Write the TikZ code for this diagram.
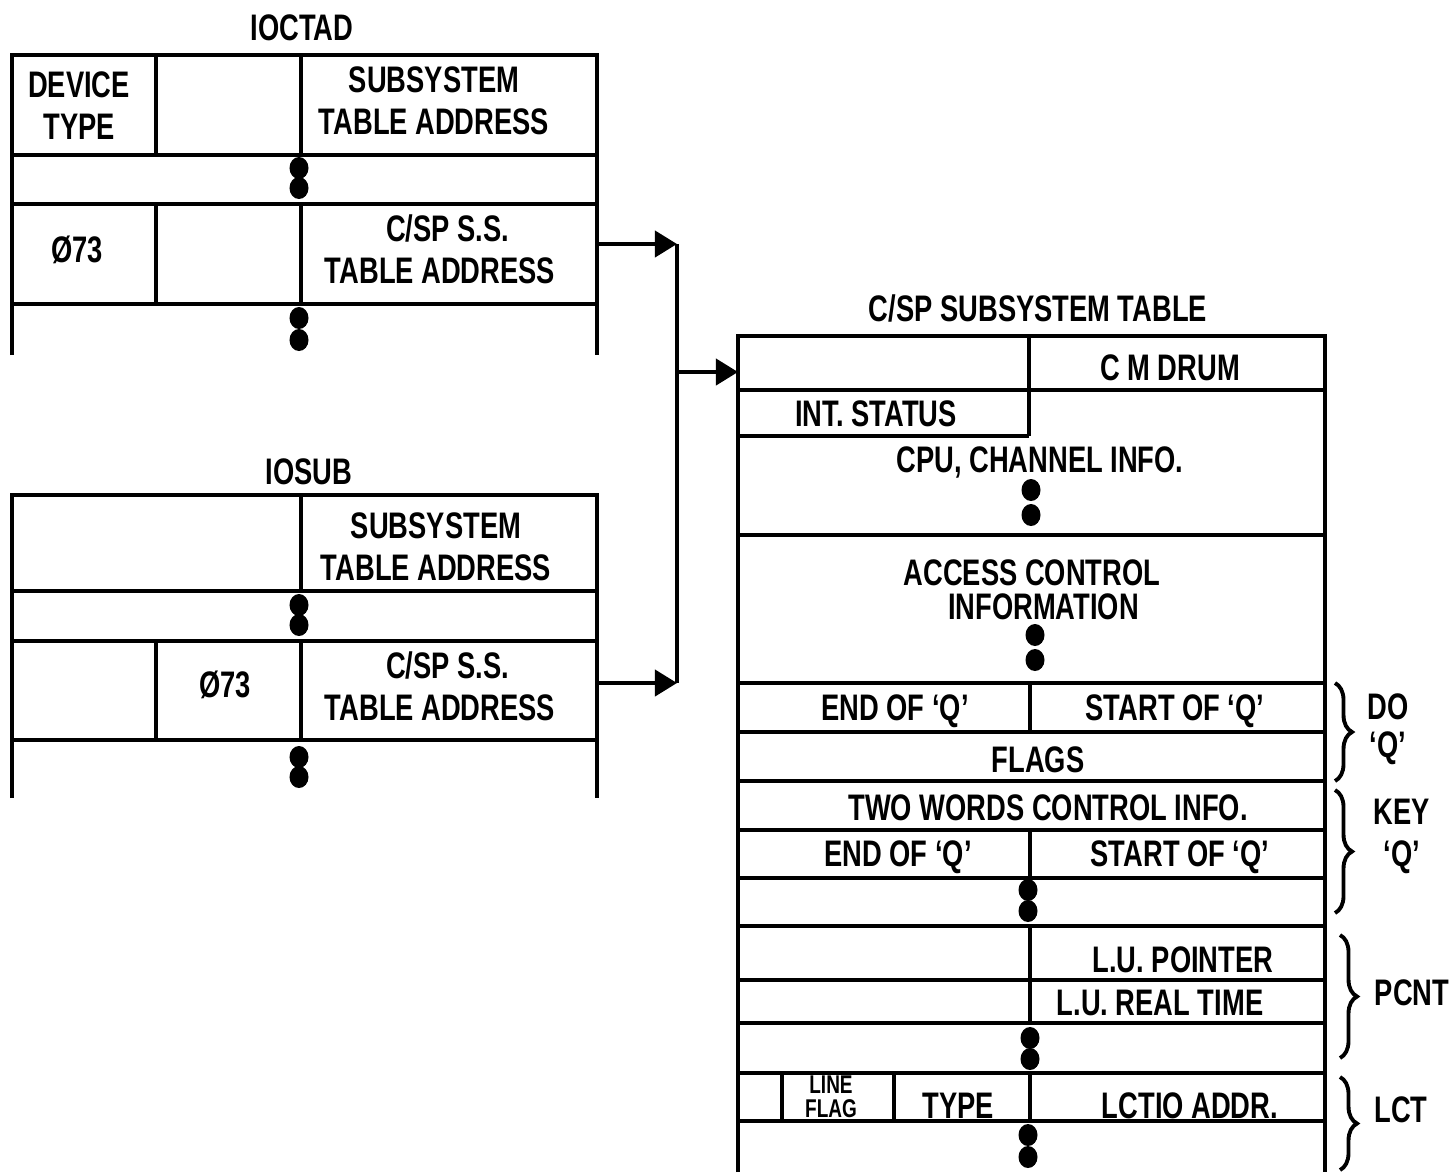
\documentclass[tikz,border=0pt]{standalone}
\usepackage{fontspec}
\setmainfont[FakeStretch=0.74]{Liberation Sans}
\usetikzlibrary{arrows.meta}
\usetikzlibrary{decorations.pathreplacing}

\begin{document}
\begin{tikzpicture}[x=0.01cm,y=-0.01cm]
  \tikzstyle{rule}=[line width=1.1pt]
  \tikzstyle{lbl}=[font=\fontsize{10.5}{11.9}\selectfont\bfseries, align=center, inner sep=0pt]
  \tikzstyle{small}=[font=\fontsize{7.3}{6.8}\selectfont\bfseries, align=center, inner sep=0pt]
  \tikzstyle{dot}=[x radius=0.095cm, y radius=0.11cm]
  \tikzstyle{ptr}=[rule, -{Triangle[length=0.22cm,width=0.26cm]}]
  \tikzstyle{grp}=[rule, decorate, decoration={brace, amplitude=0.17cm}]

  \useasboundingbox (0,0) rectangle (1455,1172);

  % IOCTAD
  \node[lbl] (ioctad) at (302,28) {IOCTAD};
  \draw[rule] (12,355) -- (12,55) -- (597,55) -- (597,355);
  \foreach \y in {155,204,304}{
      \draw[rule] (12,\y) -- (597,\y);
    }
  \draw[rule] (156,55) -- (156,155) (301,55) -- (301,155);
  \draw[rule] (156,204) -- (156,304) (301,204) -- (301,304);
  \node[lbl] (devtype) at (79,106) {DEVICE\\TYPE};
  \node[lbl] (ctadsub) at (434,101) {SUBSYSTEM\\TABLE ADDRESS};
  \node[lbl] (ctadcode) at (77,250) {Ø73};
  \node[lbl] (ctadcsp) at (440,249) {\ \ C/SP S.S.\\TABLE ADDRESS};
  \coordinate (ctadout) at (597,244);

  % IOSUB
  \node[lbl] (iosub) at (309,472) {IOSUB};
  \draw[rule] (12,798) -- (12,495) -- (597,495) -- (597,798);
  \foreach \y in {591,641,740}{
      \draw[rule] (12,\y) -- (597,\y);
    }
  \draw[rule] (301,495) -- (301,591);
  \draw[rule] (156,641) -- (156,740) (301,641) -- (301,740);
  \node[lbl] (subsub) at (436,547) {SUBSYSTEM\\TABLE ADDRESS};
  \node[lbl] (subcode) at (225,685) {Ø73};
  \node[lbl] (subcsp) at (440,686) {\ \ C/SP S.S.\\TABLE ADDRESS};
  \coordinate (subout) at (597,683);

  % POINTERS
  \coordinate (bustop) at (677,244);
  \coordinate (busbot) at (677,683);
  \coordinate (busmid) at (677,372);
  \coordinate (tablein) at (738,372);
  \draw[rule] (bustop) -- (busbot);
  \draw[ptr] (ctadout) -- (bustop);
  \draw[ptr] (subout) -- (busbot);
  \draw[ptr] (busmid) -- (tablein);

  % C/SP SUBSYSTEM TABLE
  \node[lbl] (csptab) at (1038,308) {C/SP SUBSYSTEM TABLE};
  \draw[rule] (738,1172) -- (738,336) -- (1325,336) -- (1325,1172);
  \foreach \y in {390,535,683,732,781,830,878,926,980,1023,1073,1121}{
      \draw[rule] (738,\y) -- (1325,\y);
    }
  \draw[rule] (738,436) -- (1029,436) (1029,336) -- (1029,436);
  \foreach \a/\b in {683/732,830/878,926/1023,1073/1121}{
      \draw[rule] (1030,\a) -- (1030,\b);
    }
  \draw[rule] (782,1073) -- (782,1121) (894,1073) -- (894,1121);

  \node[lbl] (cmdrum) at (1170,368) {C M DRUM};
  \node[lbl] (intstat) at (876,414) {INT. STATUS};
  \node[lbl] (cpuinfo) at (1040,462) {CPU, CHANNEL INFO.};
  \node[lbl, font=\fontsize{10.5}{9.8}\selectfont\bfseries] (access) at (1032,590) {ACCESS CONTROL\\\ \ \ INFORMATION};
  \node[lbl] (doend) at (895,711) {END OF ‘Q’};
  \node[lbl] (dostart) at (1175,711) {START OF ‘Q’};
  \node[lbl] (flags) at (1038,760) {FLAGS};
  \node[lbl] (twowords) at (1048,808) {TWO WORDS CONTROL INFO.};
  \node[lbl] (keyend) at (898,857) {END OF ‘Q’};
  \node[lbl] (keystart) at (1180,857) {START OF ‘Q’};
  \node[lbl] (lupoint) at (1183,960) {L.U. POINTER};
  \node[lbl] (lureal) at (1160,1003) {L.U. REAL TIME};
  \node[small] (lineflag) at (831,1097) {LINE\\FLAG};
  \node[lbl] (lcttype) at (958,1106) {TYPE};
  \node[lbl] (lctio) at (1190,1106) {LCTIO ADDR.};

  % DOTS
  \foreach \x/\y in {299/168,299/188,299/318,299/340,299/605,299/625,299/757,299/777,
      1031/490,1031/515,1035/635,1035/660,1028/890,1028/911,1030/1038,1030/1059,1028/1135,1028/1157}{
      \fill (\x,\y) circle [dot];
    }

  % GROUPS
  \draw[grp] (1335,683) -- (1335,781);
  \draw[grp] (1335,790) -- (1335,913);
  \draw[grp] (1340,935) -- (1340,1058);
  \draw[grp] (1340,1077) -- (1340,1170);
  \node[lbl, font=\fontsize{10.5}{10.9}\selectfont\bfseries] (doq) at (1388,729) {DO\\‘Q’};
  \node[lbl] (keyq) at (1402,836) {KEY\\‘Q’};
  \node[lbl] (pcnt) at (1412,993) {PCNT};
  \node[lbl] (lct) at (1401,1110) {LCT};
\end{tikzpicture}
\end{document}
